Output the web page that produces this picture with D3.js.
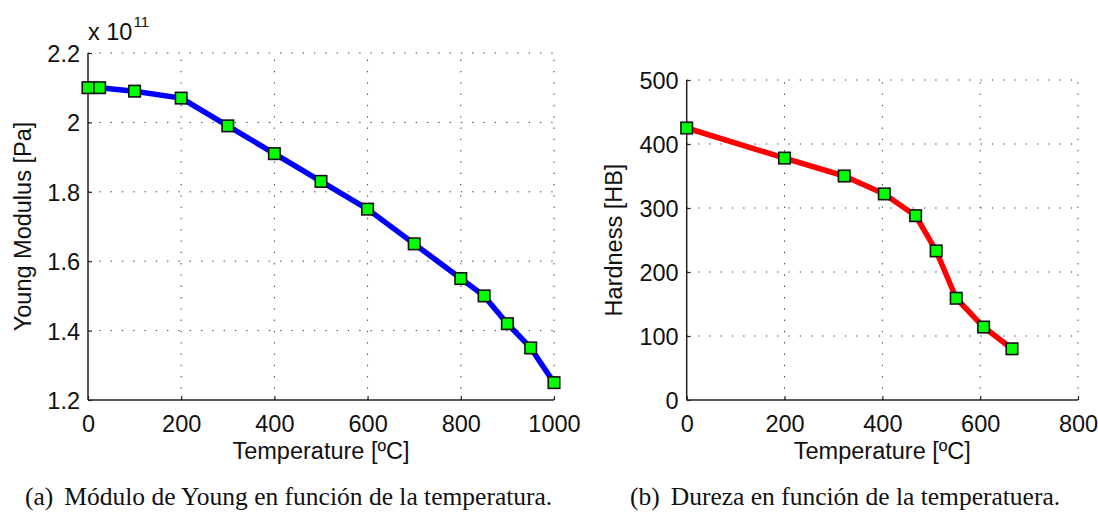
<!DOCTYPE html>
<html>
<head>
<meta charset="utf-8">
<script src="https://cdn.jsdelivr.net/npm/d3@7"></script>
<style>
  body { margin: 0; background: #fff; }
  svg { display: block; }
  .sans { font-family: "Liberation Sans", Arial, Helvetica, sans-serif; }
  .serif { font-family: "Liberation Serif", "Times New Roman", serif; }
</style>
</head>
<body>
<svg id="chart" width="1098" height="512"></svg>
<script>
// ---- Data (a): Young modulus vs temperature ----
const youngTemp = [0, 25, 100, 200, 300, 400, 500, 600, 700, 800, 850, 900, 950, 1000];
const youngModulus = [2.10e11, 2.10e11, 2.09e11, 2.07e11, 1.99e11, 1.91e11, 1.83e11, 1.75e11, 1.65e11, 1.55e11, 1.50e11, 1.42e11, 1.35e11, 1.25e11];
const youngXTicks = [0, 200, 400, 600, 800, 1000];
const youngYTicks = [1.2e11, 1.4e11, 1.6e11, 1.8e11, 2.0e11, 2.2e11];

// ---- Data (b): Hardness vs temperature ----
const hardTemp = [0, 200, 322, 404, 468, 510, 551, 607, 665];
const hardness = [425, 378, 350, 322, 288, 233, 159, 114, 80];
const hardXTicks = [0, 200, 400, 600, 800];
const hardYTicks = [0, 100, 200, 300, 400, 500];

const svg = d3.select("#chart");
const FS = 23.5;

function panel(opts) {
  const x = d3.scaleLinear().domain(opts.xDomain).range([opts.left, opts.right]);
  const y = d3.scaleLinear().domain(opts.yDomain).range([opts.bottom, opts.top]);
  const g = svg.append("g");

  // grid (dotted)
  g.append("g").selectAll("line").data(opts.xTicks.filter(d => d !== opts.xDomain[0]))
    .join("line")
    .attr("x1", d => x(d)).attr("x2", d => x(d))
    .attr("y1", opts.bottom).attr("y2", opts.top)
    .attr("stroke", "#333").attr("stroke-width", 1)
    .attr("stroke-dasharray", "1.3,10");
  g.append("g").selectAll("line").data(opts.yTicks.filter(d => d !== opts.yDomain[0]))
    .join("line")
    .attr("y1", d => y(d)).attr("y2", d => y(d))
    .attr("x1", opts.left).attr("x2", opts.right)
    .attr("stroke", "#333").attr("stroke-width", 1)
    .attr("stroke-dasharray", "1.3,10");

  // axes
  const xAxis = d3.axisBottom(x).tickValues(opts.xTicks).tickSize(-4).tickFormat(opts.xFormat);
  const yAxis = d3.axisLeft(y).tickValues(opts.yTicks).tickSize(-4).tickPadding(8).tickFormat(opts.yFormat);
  const gx = g.append("g").attr("transform", `translate(0,${opts.bottom})`).call(xAxis);
  const gy = g.append("g").attr("transform", `translate(${opts.left},0)`).call(yAxis);
  [gx, gy].forEach(a => {
    a.select(".domain").attr("stroke", "#222").attr("stroke-width", 1.5);
    a.selectAll(".tick line").attr("stroke", "#222").attr("stroke-width", 1.2);
    a.selectAll(".tick text").attr("class", "sans").attr("font-size", FS).attr("fill", "#111");
  });
  gx.select(".domain").attr("d", `M${opts.left},0H${opts.right}`);
  gy.select(".domain").attr("d", `M0,${opts.bottom}V${opts.top}`);
  gx.selectAll(".tick text").attr("dy", null).attr("y", 32);
  gy.selectAll(".tick text").attr("dy", "0.36em");

  // line
  const pts = opts.xs.map((d, i) => [d, opts.ys[i]]);
  g.append("path").datum(pts)
    .attr("fill", "none").attr("stroke", opts.color).attr("stroke-width", 5.5)
    .attr("stroke-linejoin", "round")
    .attr("d", d3.line().x(d => x(d[0])).y(d => y(d[1])));
  // markers
  const s = 11.5;
  g.append("g").selectAll("rect").data(pts).join("rect")
    .attr("x", d => x(d[0]) - s / 2).attr("y", d => y(d[1]) - s / 2)
    .attr("width", s).attr("height", s)
    .attr("fill", "#00ff00").attr("stroke", "#111").attr("stroke-width", 1.6);

  // axis titles
  g.append("text").attr("class", "sans").attr("font-size", FS).attr("fill", "#111")
    .attr("text-anchor", "middle")
    .attr("x", (opts.left + opts.right) / 2).attr("y", 459)
    .text(opts.xLabel);
  g.append("text").attr("class", "sans").attr("font-size", FS).attr("fill", "#111")
    .attr("text-anchor", "middle")
    .attr("transform", `translate(${opts.yLabelX},${(opts.top + opts.bottom) / 2}) rotate(-90)`)
    .text(opts.yLabel);

  // caption
  const cap = g.append("text").attr("class", "serif").attr("font-size", 25.5).attr("fill", "#111")
    .attr("x", opts.capX).attr("y", 505);
  cap.append("tspan").text(opts.capTag);
  cap.append("tspan").attr("dx", 11).text(opts.capText);
  return { x, y, g };
}

panel({
  left: 88, right: 554, top: 53, bottom: 400,
  xDomain: [0, 1000], yDomain: [1.2e11, 2.2e11],
  xTicks: youngXTicks, yTicks: youngYTicks,
  xFormat: d3.format("d"), yFormat: d => +(d / 1e11).toFixed(1) + "",
  xs: youngTemp, ys: youngModulus, color: "#0000ff",
  xLabel: "Temperature [ºC]", yLabel: "Young Modulus [Pa]", yLabelX: 31,
  capX: 25, capTag: "(a)", capText: "Módulo de Young en función de la temperatura."
});

// exponent label
const ex = svg.append("text").attr("class", "sans").attr("fill", "#111").attr("x", 88).attr("y", 40);
ex.append("tspan").attr("font-size", FS).text("x 10");
ex.append("tspan").attr("font-size", 15).attr("dy", -13).attr("dx", 1).text("11");

panel({
  left: 686.7, right: 1078, top: 80, bottom: 400,
  xDomain: [0, 800], yDomain: [0, 500],
  xTicks: hardXTicks, yTicks: hardYTicks,
  xFormat: d3.format("d"), yFormat: d3.format("d"),
  xs: hardTemp, ys: hardness, color: "#ff0000",
  xLabel: "Temperature [ºC]", yLabel: "Hardness [HB]", yLabelX: 622,
  capX: 630, capTag: "(b)", capText: "Dureza en función de la temperatuera."
});
</script>
</body>
</html>
